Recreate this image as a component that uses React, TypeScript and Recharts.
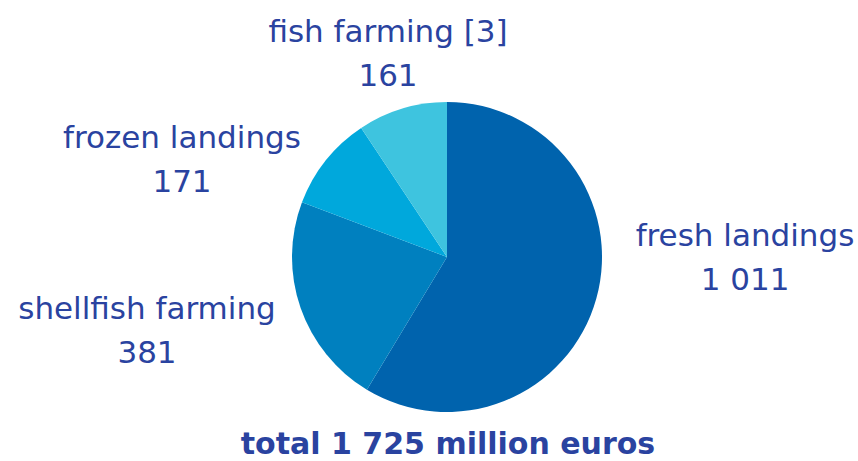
import React from "react"
import { PieChart, Pie, Cell } from "recharts"

// values in million euros
const categories = ["fresh landings", "shellfish farming", "frozen landings", "fish farming [3]"]
const values = [1011, 381, 171, 161]
const valueLabels = ["1 011", "381", "171", "161"]
const totalLabel = "total 1 725 million euros"

const colors = ["#0063ad", "#0080bf", "#00a8dc", "#3ec4df"]
const textColor = "#2a43a0"

// label anchor relative to pie centre (text centre x, first baseline y)
const labelOffsets = [
  [298, -11],
  [-300, 62],
  [-265, -109],
  [-59, -215],
]

const data = categories.map((name, i) => ({ name, value: values[i] }))

const renderLabel = (props: any) => {
  const { cx, cy, index } = props
  const [dx, dy] = labelOffsets[index]
  const x = cx + dx
  const y = cy + dy
  return (
    <text
      x={x}
      y={y}
      textAnchor="middle"
      fill={textColor}
      fontSize={31}
      fontFamily="DejaVu Sans"
    >
      <tspan x={x} y={y}>
        {categories[index]}
      </tspan>
      <tspan x={x} y={y + 44}>
        {valueLabels[index]}
      </tspan>
    </text>
  )
}

export default function App() {
  return (
    <div style={{ position: "absolute", left: 0, top: 0, width: 858, height: 461, background: "#fff" }}>
      <PieChart width={858} height={461} margin={{ top: 0, right: 0, bottom: 0, left: 0 }}>
        <Pie
          data={data}
          dataKey="value"
          nameKey="name"
          cx={447}
          cy={257}
          outerRadius={155}
          startAngle={90}
          endAngle={-270}
          stroke="none"
          label={renderLabel}
          labelLine={false}
          isAnimationActive={false}
        >
          {data.map((d, i) => (
            <Cell key={d.name} fill={colors[i]} />
          ))}
        </Pie>
      </PieChart>
      <div
        style={{
          position: "absolute",
          left: 38,
          width: 820,
          top: 426,
          height: 35,
          textAlign: "center",
          color: textColor,
          fontFamily: "DejaVu Sans",
          fontWeight: "bold",
          fontSize: 30,
          lineHeight: "35px",
          whiteSpace: "nowrap",
        }}
      >
        {totalLabel}
      </div>
    </div>
  )
}
